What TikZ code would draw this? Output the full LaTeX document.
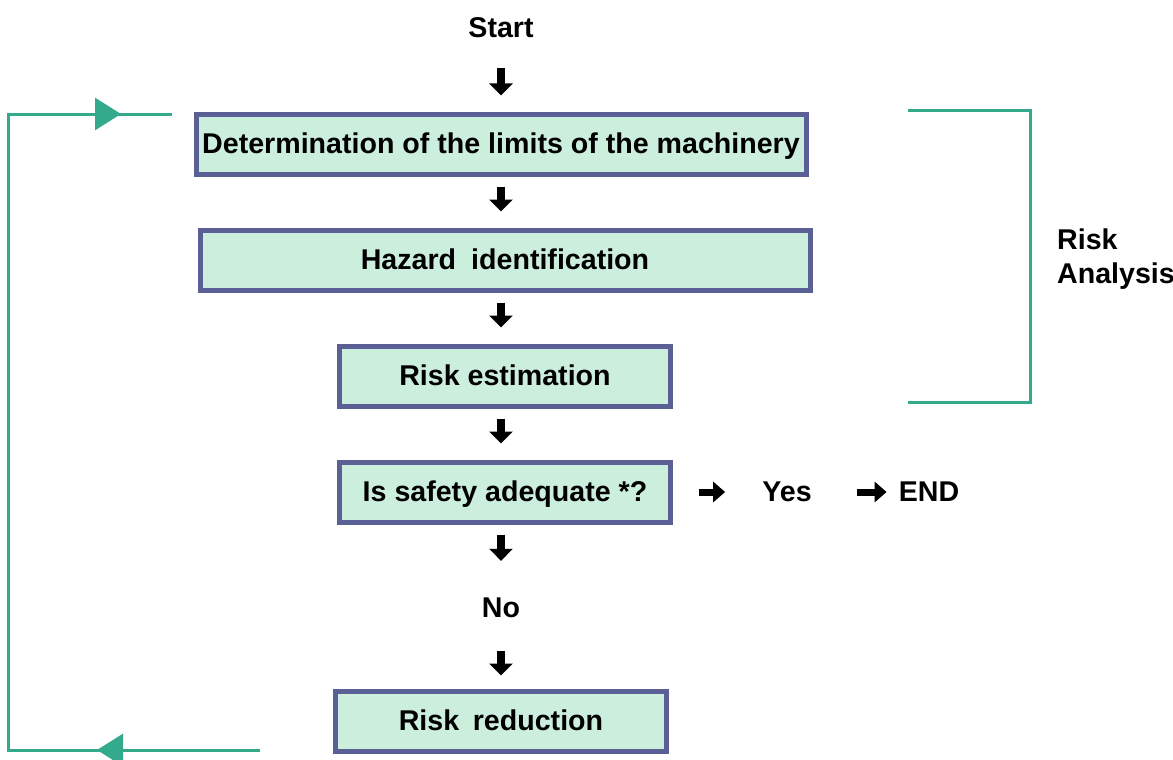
\documentclass[tikz,border=0pt]{standalone}
\usepackage{fontspec}
\setmainfont{Liberation Sans}
\usetikzlibrary{arrows.meta,decorations.markings}
\definecolor{boxline}{RGB}{90,95,150}
\definecolor{boxfill}{RGB}{204,238,220}
\definecolor{loopgreen}{RGB}{52,170,140}
\tikzstyle{bt} = [rectangle, draw=boxline, fill=boxfill, line width=5pt,
    minimum width=610pt, minimum height=60pt, text height=20pt, text depth=2pt, inner sep=0pt]
\tikzstyle{lbl} = [inner sep=0pt]
\tikzstyle{dn} = [line width=8pt, -{Triangle[width=23pt,length=12pt]}, shorten <=10pt, shorten >=16pt]
\tikzstyle{rt} = [line width=7pt, -{Triangle[width=20pt,length=12pt]}]
\tikzstyle{fb} = [draw=loopgreen, line width=3pt]
\tikzstyle{fbtip} = [color=loopgreen]

\begin{document}
\begin{tikzpicture}[x=1pt,y=-1pt,node distance=116pt,
                    font=\fontsize{28.6}{34}\selectfont\bfseries]
  \useasboundingbox (0,0) rectangle (1173,760);

  \node[lbl]                   (s)                              at (501,28) {Start};
  \node[bt]                    (1)  [below of=s]                {Determination of the limits of the machinery};
  \node[bt]                    (2)  [below of=1,xshift=4pt]     {Hazard\hspace{0.25em} identification};
  \node[bt, minimum width=331pt] (3) [below of=2]               {Risk estimation};
  \node[bt, minimum width=331pt] (4) [below of=3]               {Is safety adequate *?};
  \node[lbl]                   (no) [below of=4,xshift=-4pt]    {No};
  \node[bt, minimum width=331pt] (5) [below of=no,yshift=3pt]   {Risk\hspace{0.2em} reduction};
  \node[lbl]                   (yes) [right of=4,node distance=282pt] {Yes};
  \node[lbl]                   (e)   [right of=yes,node distance=142pt] {END};
  \node[lbl, align=left, anchor=north west] (ra) at (1057,229) {Risk\\Analysis};

  % flow
  \draw[dn, shorten <=30pt] (s) -- (1);
  \draw[dn] (s |- 1.south) -- (s |- 2.north);
  \draw[dn] (s |- 2.south) -- (s |- 3.north);
  \draw[dn] (s |- 3.south) -- (s |- 4.north);
  \draw[dn, shorten >=37pt] (s |- 4.south) -- (no);
  \draw[dn, shorten <=33pt, shorten >=13pt] (no) -- (5);
  \draw[rt, shorten <=26pt, shorten >=37pt] (4) -- (yes);
  \draw[rt, shorten <=45pt, shorten >=12pt] (yes) -- (e);

  % risk analysis bracket
  \coordinate (bt) at (908,110);
  \coordinate (bb) at (908,402);
  \draw[fb] (bt) -- ++(122,0) |- (bb);

  % feedback loop
  \coordinate (l1) at (260,750);
  \coordinate (l2) at (172,114);
  \draw[fb, postaction={decorate}, decoration={markings,
        mark=at position 163pt with {\arrow[fbtip]{Triangle[width=32pt,length=26pt]}},
        mark=at position 1001pt with {\arrow[fbtip]{Triangle[width=32pt,length=26pt]}}}]
    (l1) -| (8,114) -- (l2);
\end{tikzpicture}
\end{document}
